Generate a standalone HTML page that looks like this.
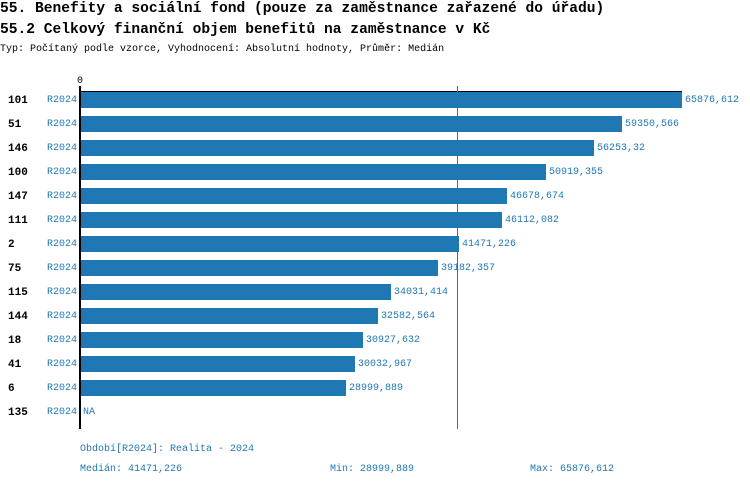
<!DOCTYPE html>
<html><head><meta charset="utf-8"><style>
body{margin:0;width:750px;height:488px;background:#fff;position:relative;overflow:hidden;font-family:"Liberation Mono",monospace}
.a{position:absolute;white-space:nowrap;line-height:1}
.t{font-size:14.6px;font-weight:bold;color:#000}
.b{background:#1f77b4;position:absolute;height:16px;left:81px}
.blue{color:#1f77b4}
</style></head><body>
<div class="a t" style="left:0;top:2px">55. Benefity a sociální fond (pouze za zaměstnance zařazené do úřadu)</div>
<div class="a t" style="left:0;top:23px">55.2 Celkový finanční objem benefitů na zaměstnance v Kč</div>
<div class="a" style="left:0;top:45px;font-size:10px">Typ: Počítaný podle vzorce, Vyhodnocení: Absolutní hodnoty, Průměr: Medián</div>
<div class="a" style="left:77px;top:77px;font-size:10px">0</div>
<div style="position:absolute;left:79px;top:86px;width:2px;height:343px;background:#000"></div>
<div style="position:absolute;left:79px;top:91px;width:603px;height:1px;background:#000"></div>
<div style="position:absolute;left:457px;top:86px;width:1px;height:343px;background:#3a6fa8"></div>
<div id="rows"></div>
<div class="a blue" style="left:80px;top:445px;font-size:10px">Období[R2024]: Realita - 2024</div>
<div class="a blue" style="left:80px;top:465px;font-size:10px">Medián: 41471,226</div>
<div class="a blue" style="left:330px;top:465px;font-size:10px">Min: 28999,889</div>
<div class="a blue" style="left:530px;top:465px;font-size:10px">Max: 65876,612</div>
<script>
var d=[["101",65876.612,"65876,612"],["51",59350.566,"59350,566"],["146",56253.32,"56253,32"],["100",50919.355,"50919,355"],["147",46678.674,"46678,674"],["111",46112.082,"46112,082"],["2",41471.226,"41471,226"],["75",39182.357,"39182,357"],["115",34031.414,"34031,414"],["144",32582.564,"32582,564"],["18",30927.632,"30927,632"],["41",30032.967,"30032,967"],["6",28999.889,"28999,889"],["135",null,"NA"]];
var h="";d.forEach(function(r,i){var y=100+24*i;
h+='<div class="a" style="left:8px;top:'+(y-4)+'px;font-size:11px;font-weight:bold">'+r[0]+'</div>';
h+='<div class="a blue" style="left:47px;top:'+(y-4)+'px;font-size:10px">R2024</div>';
var w=r[1]?Math.round(r[1]*601/65876.612):0;
if(w)h+='<div class="b" style="top:'+(y-8)+'px;width:'+w+'px"></div>';
h+='<div class="a blue" style="left:'+(83+w+(w?1:0))+'px;top:'+(y-4)+'px;font-size:10px">'+r[2]+'</div>';});
document.getElementById("rows").innerHTML=h;
</script>
</body></html>
